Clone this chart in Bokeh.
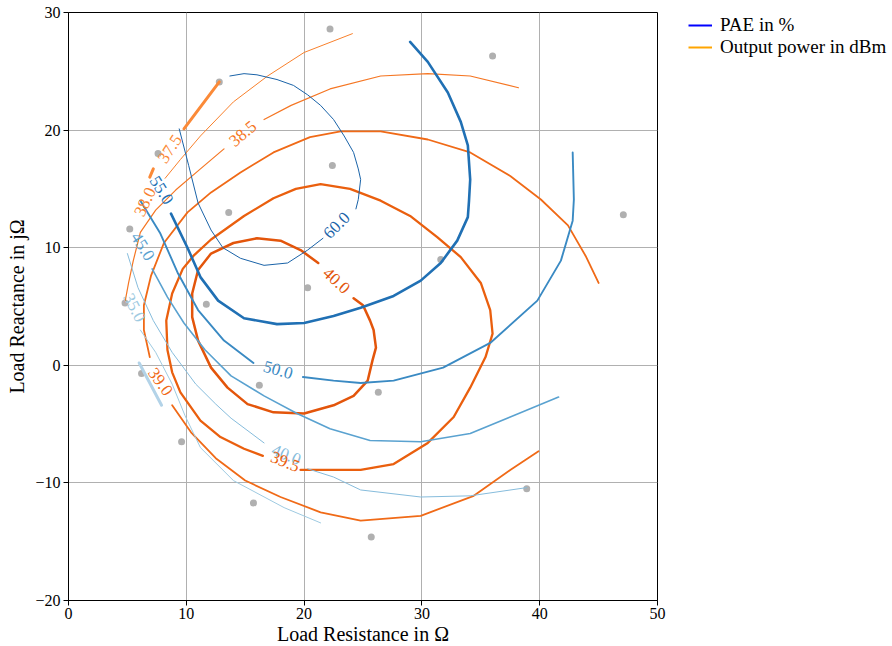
import math
from bokeh.plotting import figure
from bokeh.models import Legend, LegendItem, FixedTicker, Range1d, ColumnDataSource
from bokeh.core.properties import value
from bokeh.embed import file_html
from bokeh.resources import INLINE

# ---- measured load points (grey dots) ----
load_r = [22.2, 36.0, 12.8, 7.6, 22.4, 47.1, 13.6, 5.2, 31.6, 20.3, 4.8, 11.7, 6.2, 16.2, 26.3, 9.6, 15.7, 38.9, 25.7]
load_x = [28.6, 26.3, 24.1, 18.0, 17.0, 12.8, 13.0, 11.6, 9.0, 6.6, 5.3, 5.2, -0.7, -1.7, -2.3, -6.5, -11.7, -10.5, -14.6]

# ---- PAE contours (%) ----
pae30_r = [6.0, 7.9]
pae30_x = [0.2, -3.4]
pae35_r = [6.1, 7.4, 8.8, 9.9, 11.2, 14.0, 18.3, 21.4]
pae35_x = [3.0, 1.1, -1.6, -4.3, -7.0, -9.8, -12.1, -13.4]
pae40a_r = [5.0, 5.9, 7.2, 8.8, 10.8, 12.5, 13.8, 16.6]
pae40a_x = [9.5, 6.6, 3.8, 1.1, -1.6, -3.3, -4.5, -6.6]
pae40b_r = [20.3, 22.5, 24.8, 29.9, 34.1, 38.9]
pae40b_x = [-8.8, -9.5, -10.6, -11.2, -11.1, -10.4]
pae45_r = [7.1, 8.4, 9.8, 11.6, 13.8, 16.6, 19.4, 22.2, 25.6, 29.9, 34.1, 37.5, 41.6]
pae45_x = [8.2, 5.8, 3.6, 1.3, -0.9, -2.6, -4.1, -5.4, -6.4, -6.5, -5.8, -4.4, -2.7]
pae50a_r = [6.1, 7.8, 9.3, 11.0, 13.2, 15.7]
pae50a_x = [14.0, 11.2, 7.8, 4.7, 2.1, 0.2]
pae50b_r = [19.9, 22.5, 24.8, 27.6, 31.8, 35.8, 39.8, 41.8, 42.8, 42.9, 42.8]
pae50b_x = [-1.0, -1.3, -1.5, -1.3, -0.2, 1.9, 5.5, 8.9, 12.3, 14.1, 18.1]
pae55_r = [29.0, 30.5, 32.2, 33.3, 33.9, 34.1, 34.0, 33.9, 33.0, 31.6, 29.9, 27.6, 24.8, 22.5, 20.0, 17.7, 14.9, 12.7, 11.2, 10.1, 8.7]
pae55_x = [27.5, 25.8, 23.2, 20.7, 18.7, 15.8, 14.0, 12.6, 10.6, 8.7, 7.2, 5.9, 4.9, 4.2, 3.6, 3.5, 4.0, 5.5, 7.5, 10.0, 12.9]
pae60a_r = [13.7, 14.9, 16.0, 17.7, 19.1, 20.3, 21.4, 22.5, 23.4, 24.2, 24.6, 24.8, 24.6, 24.4]
pae60a_x = [24.6, 24.8, 24.7, 24.3, 23.8, 23.0, 22.1, 20.9, 19.5, 18.1, 16.7, 15.8, 14.1, 13.3]
pae60b_r = [21.6, 20.3, 18.6, 16.6, 14.6, 13.1, 12.1, 11.0, 10.2, 9.4]
pae60b_x = [10.8, 9.8, 8.7, 8.5, 9.1, 10.0, 11.5, 13.8, 17.0, 20.1]

# ---- Output power contours (dBm) ----
pout375a_r = [12.8, 9.8]
pout375a_x = [24.1, 20.1]
pout375b_r = [7.2, 6.9]
pout375b_x = [16.7, 16.0]
pout380_r = [24.1, 20.0, 16.9, 14.0, 11.2, 9.5, 8.2]
pout380_x = [28.2, 26.6, 24.6, 22.4, 19.5, 17.5, 15.9]
pout385a_r = [38.2, 34.1, 30.5, 26.5, 22.2, 18.9, 16.6]
pout385a_x = [23.6, 24.6, 24.8, 24.6, 23.5, 22.1, 20.9]
pout385b_r = [13.2, 11.2, 9.1, 7.4, 6.1, 5.5, 5.1, 4.8]
pout385b_x = [18.4, 16.7, 14.9, 13.2, 11.3, 8.9, 7.0, 5.4]
pout390a_r = [45.0, 43.9, 42.4, 40.1, 37.5, 34.1, 30.5, 26.5, 23.1, 20.5, 17.4, 14.6, 12.1, 10.1, 8.1, 7.0, 6.4, 6.4, 6.9]
pout390a_x = [7.0, 9.3, 11.9, 14.1, 16.1, 18.1, 19.2, 19.9, 19.9, 19.4, 18.1, 16.4, 14.7, 13.0, 10.4, 7.6, 5.1, 3.0, 0.7]
pout390b_r = [8.8, 10.4, 12.5, 15.0, 18.0, 21.4, 24.8, 29.9, 34.4, 37.5, 39.9]
pout390b_x = [-3.4, -5.7, -7.9, -9.8, -11.2, -12.5, -13.2, -12.8, -11.1, -8.9, -7.3]
pout395_r = [19.7, 22.2, 24.8, 27.6, 30.5, 32.7, 34.1, 35.4, 36.0, 35.8, 35.0, 33.3, 31.3, 29.0, 26.5, 23.9,
             21.4, 19.3, 17.4, 14.9, 12.1, 10.6, 9.7, 8.8, 8.3, 8.4, 8.8, 9.5, 11.2, 12.9, 14.9, 16.5]
pout395_x = [-8.9, -8.9, -8.9, -8.4, -6.6, -4.4, -1.9, 0.7, 2.7, 4.7, 7.0, 9.2, 10.9, 12.7, 14.0, 15.0,
             15.4, 15.0, 14.2, 12.7, 10.7, 9.3, 8.2, 6.1, 3.8, 1.3, -0.6, -2.3, -4.7, -6.1, -7.1, -7.7]
pout400_r = [21.2, 19.7, 18.0, 16.0, 14.0, 12.1, 11.0, 10.5, 10.5, 11.0, 12.1, 13.5, 15.2, 17.4, 20.0, 22.5,
             24.2, 25.4, 25.8, 26.1, 25.9, 25.6, 25.0, 24.2]
pout400_x = [8.7, 9.8, 10.6, 10.8, 10.4, 9.5, 8.1, 6.1, 4.1, 2.1, -0.2, -1.9, -3.3, -4.0, -4.1, -3.4,
             -2.6, -1.3, 0.4, 1.5, 3.0, 3.8, 5.1, 5.7]

# ---- contour labels ----
pae_label_text = ["60.0", "55.0", "50.0", "45.0", "40.0", "35.0"]
pae_label_r = [22.75, 7.9, 17.8, 6.3, 18.5, 5.6]
pae_label_x = [11.9, 14.9, -0.4, 10.1, -7.6, 4.9]
pae_label_angle = [45, -58, -16, -58, -22, -63]
pout_label_text = ["37.5", "38.0", "38.5", "39.0", "39.5", "40.0"]
pout_label_r = [8.6, 6.5, 14.8, 7.8, 18.4, 22.75]
pout_label_x = [18.4, 13.9, 19.7, -1.4, -8.2, 7.2]
pout_label_angle = [57, 65, 40, -54, -22, -43]

x_ticks = [0, 10, 20, 30, 40, 50]
y_ticks = [-20, -10, 0, 10, 20, 30]
y_tick_labels = ["\u221220", "\u221210", "0", "10", "20", "30"]

FONT = "Liberation Serif"

# colours / widths per level (styles)
pae_style = {
    "30": ("#b3d3e8", 3.0), "35": ("#9ecae1", 1.0), "40": ("#86bcdc", 1.0),
    "45": ("#5aa2d0", 1.6), "50": ("#3a8ac3", 1.9), "55": ("#2070b4", 2.6), "60": ("#1a63a8", 1.0),
}
pout_style = {
    "37.5": ("#fb8a38", 3.0), "38.0": ("#f8802c", 1.0), "38.5": ("#f57623", 1.2),
    "39.0": ("#f06a17", 1.8), "39.5": ("#ea5f0e", 2.3), "40.0": ("#e3550b", 2.5),
}

p = figure(frame_width=589, frame_height=588,
           x_range=Range1d(0, 50), y_range=Range1d(-20, 30),
           output_backend="svg", toolbar_location=None,
           min_border_left=68, min_border_right=0, min_border_top=12, min_border_bottom=44,
           x_axis_label="Load Resistance in \u03a9", y_axis_label="Load Reactance in j\u03a9")
p.background_fill_color = "white"
p.border_fill_color = "white"
p.outline_line_color = "black"
p.outline_line_alpha = 1.0
p.outline_line_width = 1

p.xaxis.ticker = FixedTicker(ticks=x_ticks)
p.yaxis.ticker = FixedTicker(ticks=y_ticks)
p.yaxis.major_label_overrides = {t: lab for t, lab in zip(y_ticks, y_tick_labels)}
for ax in (p.xaxis[0], p.yaxis[0]):
    ax.axis_line_color = "black"
    ax.major_tick_line_color = "black"
    ax.major_tick_out = 5
    ax.major_tick_in = 0
    ax.minor_tick_line_color = None
    ax.major_label_text_font = FONT
    ax.major_label_text_font_size = "16px"
    ax.major_label_text_color = "black"
    ax.axis_label_text_font = FONT
    ax.axis_label_text_font_size = "20px"
    ax.axis_label_text_font_style = "normal"
    ax.axis_label_text_color = "black"
p.xaxis.major_label_standoff = 2
p.xaxis.axis_label_standoff = 1
p.yaxis.major_label_standoff = 3
p.yaxis.axis_label_standoff = 4
p.grid.grid_line_color = "#b0b0b0"
p.grid.grid_line_width = 1

# grey dots
p.scatter(load_r, load_x, size=7, fill_color="#b0b0b0", line_color=None)

pout_lines = [
    (pout375a_r, pout375a_x, "37.5"), (pout375b_r, pout375b_x, "37.5"),
    (pout380_r, pout380_x, "38.0"),
    (pout385a_r, pout385a_x, "38.5"), (pout385b_r, pout385b_x, "38.5"),
    (pout390a_r, pout390a_x, "39.0"), (pout390b_r, pout390b_x, "39.0"),
    (pout395_r, pout395_x, "39.5"),
    (pout400_r, pout400_x, "40.0"),
]
pae_lines = [
    (pae30_r, pae30_x, "30"), (pae35_r, pae35_x, "35"),
    (pae40a_r, pae40a_x, "40"), (pae40b_r, pae40b_x, "40"),
    (pae45_r, pae45_x, "45"),
    (pae50a_r, pae50a_x, "50"), (pae50b_r, pae50b_x, "50"),
    (pae55_r, pae55_x, "55"),
    (pae60a_r, pae60a_x, "60"), (pae60b_r, pae60b_x, "60"),
]
for r, x, lev in pout_lines:
    c, w = pout_style[lev]
    p.line(r, x, line_color=c, line_width=w, line_cap="round", line_join="round")
for r, x, lev in pae_lines:
    c, w = pae_style[lev]
    p.line(r, x, line_color=c, line_width=w, line_cap="round", line_join="round")

def add_labels(texts, rs, xs, angles, colors):
    src = ColumnDataSource(dict(x=rs, y=xs, text=texts,
                                angle=[math.radians(a) for a in angles], color=colors))
    p.text(x="x", y="y", text="text", angle="angle", text_color="color", source=src,
           text_font=value(FONT), text_font_size=value("17px"),
           text_align="center", text_baseline="middle")

add_labels(pae_label_text, pae_label_r, pae_label_x, pae_label_angle,
           [pae_style[t.split(".")[0]][0] for t in pae_label_text])
add_labels(pout_label_text, pout_label_r, pout_label_x, pout_label_angle,
           [pout_style[t][0] for t in pout_label_text])

nan = float("nan")
r_pae = p.line([nan], [nan], line_color="blue", line_width=2)
r_pout = p.line([nan], [nan], line_color="orange", line_width=2)
legend = Legend(items=[LegendItem(label="PAE in %", renderers=[r_pae]),
                       LegendItem(label="Output power in dBm", renderers=[r_pout])],
                location=(31, 542))
legend.border_line_alpha = 0
legend.background_fill_alpha = 0
legend.padding = 0
legend.margin = 0
legend.spacing = 0
legend.glyph_width = 24
legend.glyph_height = 22
legend.label_height = 22
legend.label_standoff = 8
legend.label_text_font = FONT
legend.label_text_font_size = "19px"
legend.label_text_color = "black"
p.add_layout(legend, "right")
p.min_border_right = 235

open("out.html", "w").write(file_html(p, INLINE))
